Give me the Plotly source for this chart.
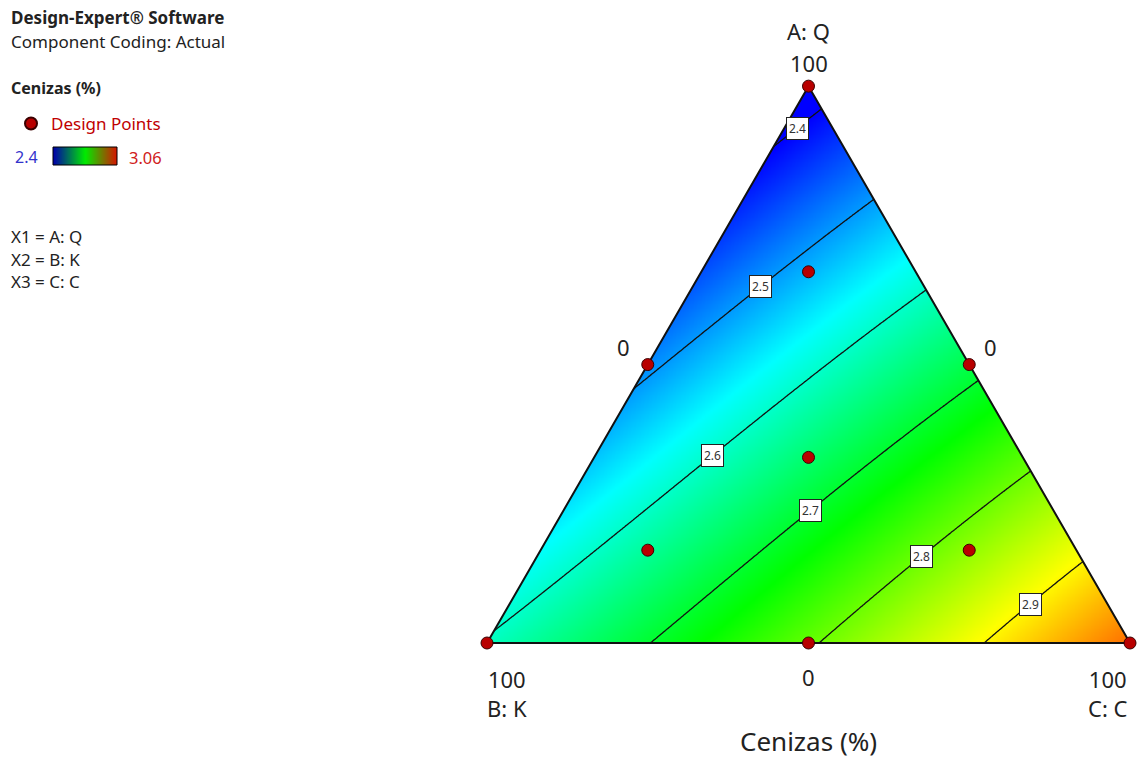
import numpy as np
import plotly.graph_objects as go

# ---------------- data ----------------
# Scheffe mixture model for Cenizas (%)
COEF_LINEAR = [2.375, 2.605, 2.99]      # A: Q, B: K, C: C
COEF_INTER = [0.0, 0.0, -0.015]         # AB, AC, BC
COEF_ABC = 0.12                         # special cubic term
CONTOUR_LEVELS = [2.4, 2.5, 2.6, 2.7, 2.8, 2.9]
RESP_MIN, RESP_MAX = 2.4, 3.06

# design points (percent of A, B, C)
PTS_A = [100, 0, 0, 50, 50, 0, 33.33, 66.67, 16.67, 16.67]
PTS_B = [0, 100, 0, 50, 0, 50, 33.33, 16.67, 66.67, 16.67]
PTS_C = [0, 0, 100, 0, 50, 50, 33.33, 16.67, 16.67, 66.67]

COMP_NAMES = ["A: Q", "B: K", "C: C"]
FONT = "Noto Sans"

# ---------------- helpers ----------------
SQ = np.sqrt(3) / 2
PX = 643.0          # pixels per unit edge
OX, OY = 487.0, 643.0  # pixel position of vertex B


def model(a, b, c):
    return (COEF_LINEAR[0] * a + COEF_LINEAR[1] * b + COEF_LINEAR[2] * c
            + COEF_INTER[0] * a * b + COEF_INTER[1] * a * c + COEF_INTER[2] * b * c
            + COEF_ABC * a * b * c)


def to_xy(a, b, c):
    a, b, c = np.asarray(a, float), np.asarray(b, float), np.asarray(c, float)
    s = a + b + c
    a, c = a / s, c / s
    return c + a / 2, a * SQ


def bary(x, y):
    a = y / SQ
    c = x - a / 2
    return a, 1 - a - c, c


xs = np.linspace(0, 1, 401)
ys = np.linspace(0, SQ, 350)
X, Y = np.meshgrid(xs, ys)
Aa, Bb, Cc = bary(X, Y)
Z = model(Aa, Bb, Cc)

fig = go.Figure()

rainbow = [[0.0, "rgb(0,0,255)"], [0.25, "rgb(0,255,255)"], [0.5, "rgb(0,255,0)"],
           [0.75, "rgb(255,255,0)"], [1.0, "rgb(255,0,0)"]]

fig.add_trace(go.Heatmap(x=xs, y=ys, z=Z, colorscale=rainbow, zmin=RESP_MIN, zmax=RESP_MAX,
                         zsmooth="best", showscale=False, hoverinfo="skip", showlegend=False))
fig.add_trace(go.Contour(x=xs, y=ys, z=Z, autocontour=False,
                         contours=dict(start=CONTOUR_LEVELS[0], end=CONTOUR_LEVELS[-1],
                                       size=0.1, coloring="none"),
                         line=dict(color="#111111", width=1.3), showscale=False,
                         hoverinfo="skip", showlegend=False))

# white masks outside the triangle
e = 0.03
fig.add_trace(go.Scatter(x=[0, 0.5, 0.5, -e, -e, 0], y=[0, SQ, SQ + e, SQ + e, -e, 0],
                         fill="toself", fillcolor="white", mode="lines",
                         line=dict(color="white", width=0), hoverinfo="skip", showlegend=False))
fig.add_trace(go.Scatter(x=[1, 0.5, 0.5, 1 + e, 1 + e, 1], y=[0, SQ, SQ + e, SQ + e, -e, 0],
                         fill="toself", fillcolor="white", mode="lines",
                         line=dict(color="white", width=0), hoverinfo="skip", showlegend=False))
fig.add_trace(go.Scatter(x=[-e, 1 + e, 1 + e, -e, -e], y=[-e, -e, 0, 0, -e],
                         fill="toself", fillcolor="white", mode="lines",
                         line=dict(color="white", width=0), hoverinfo="skip", showlegend=False))

# triangle border
vx, vy = to_xy([0, 1, 0, 0], [1, 0, 0, 1], [0, 0, 1, 0])
fig.add_trace(go.Scatter(x=vx, y=vy, mode="lines", line=dict(color="#111111", width=2),
                         hoverinfo="skip", showlegend=False))

# design points
px_, py_ = to_xy(PTS_A, PTS_B, PTS_C)
fig.add_trace(go.Scatter(x=px_, y=py_, mode="markers", name="Design Points",
                         marker=dict(size=12, color="#b80000", line=dict(color="#3a0000", width=1)),
                         showlegend=True))

# colour legend bar
lg = np.linspace(RESP_MIN, RESP_MAX, 128)
fig.add_trace(go.Heatmap(x=np.arange(len(lg)), y=[0], z=[lg], xaxis="x2", yaxis="y2",
                         colorscale=[[0, "rgb(0,0,170)"], [0.5, "rgb(0,235,0)"], [1, "rgb(215,20,0)"]],
                         zmin=RESP_MIN, zmax=RESP_MAX, showscale=False, hoverinfo="skip",
                         showlegend=False))

# ---------------- annotations ----------------
ann = []


def data_ann(x, y, text, size=22, xs_=0, ys_=0, color="#222222", **kw):
    ann.append(dict(x=x, y=y, xref="x", yref="y", text=text, showarrow=False,
                    xshift=xs_, yshift=ys_, font=dict(family=FONT, size=size, color=color), **kw))


Ax, Ay = to_xy(1, 0, 0)
Bx, By = to_xy(0, 1, 0)
Cx, Cy = to_xy(0, 0, 1)
data_ann(Ax, Ay, COMP_NAMES[0], ys_=55)
data_ann(Ax, Ay, "100", ys_=23)
data_ann(Bx, By, "100<br>" + COMP_NAMES[1], xs_=20, ys_=-50)
data_ann(Cx, Cy, "100<br>" + COMP_NAMES[2], xs_=-22, ys_=-50)
mAB = to_xy(50, 50, 0)
mAC = to_xy(50, 0, 50)
mBC = to_xy(0, 50, 50)
data_ann(mAB[0], mAB[1], "0", xs_=-24, ys_=18)
data_ann(mAC[0], mAC[1], "0", xs_=21, ys_=18)
data_ann(mBC[0], mBC[1], "0", ys_=-34)
data_ann(mBC[0], mBC[1], "Cenizas (%)", size=26, ys_=-98)

# contour labels: placed on each contour at a chosen horizontal position
LABEL_PX = [797, 760, 712, 810, 921, 1030]
for lev, lpx in zip(CONTOUR_LEVELS, LABEL_PX):
    lx = (lpx - OX) / PX
    lo, hi = 0.0, min(2 * lx, 2 * (1 - lx)) * SQ
    f = lambda yy: model(*bary(lx, yy)) - lev
    flo = f(lo)
    for _ in range(60):
        mid = (lo + hi) / 2
        if np.sign(f(mid)) == np.sign(flo):
            lo = mid
        else:
            hi = mid
    ann.append(dict(x=lx, y=(lo + hi) / 2, xref="x", yref="y", text=f"{lev:.1f}",
                    showarrow=False, bgcolor="white", bordercolor="#222222", borderwidth=1,
                    borderpad=2, font=dict(family=FONT, size=12, color="#333333")))


def paper_ann(xpx, ypx, text, size=17, color="#222222", bold=False, anchor="left"):
    t = f"<b>{text}</b>" if bold else text
    ann.append(dict(x=xpx / 1137, y=1 - ypx / 760, xref="paper", yref="paper", text=t,
                    showarrow=False, xanchor=anchor, yanchor="middle",
                    font=dict(family=FONT, size=size, color=color)))


paper_ann(9, 17, "Design-Expert® Software", bold=True, size=17)
paper_ann(9, 41, "Component Coding: Actual", size=17)
paper_ann(9, 88, "Cenizas (%)", bold=True, size=16)
paper_ann(26, 157, f"{RESP_MIN:g}", size=16, color="#3333cc", anchor="center")
paper_ann(145, 157, f"{RESP_MAX:g}", size=16.5, color="#d02020", anchor="center")
for i, (lbl, ypx) in enumerate(zip(COMP_NAMES, [236, 259, 282])):
    paper_ann(9, ypx, f"X{i + 1} = {lbl}", size=17)

shapes = [dict(type="rect", xref="paper", yref="paper", x0=53 / 1137, x1=117 / 1137,
               y0=1 - 165 / 760, y1=1 - 147 / 760, line=dict(color="black", width=1))]

fig.update_layout(
    width=1137, height=760, margin=dict(l=0, r=0, t=0, b=0),
    paper_bgcolor="white", plot_bgcolor="white",
    xaxis=dict(range=[-OX / PX, (1137 - OX) / PX], visible=False, domain=[0, 1]),
    yaxis=dict(range=[-(760 - OY) / PX, OY / PX], visible=False, domain=[0, 1]),
    xaxis2=dict(domain=[53 / 1137, 117 / 1137], anchor="y2", visible=False,
                range=[-0.5, len(lg) - 0.5]),
    yaxis2=dict(domain=[1 - 165 / 760, 1 - 147 / 760], anchor="x2", visible=False,
                range=[-0.5, 0.5]),
    annotations=ann, shapes=shapes,
    showlegend=True,
    legend=dict(x=11 / 1137, y=1 - 106 / 760, xanchor="left", yanchor="top",
                bgcolor="rgba(0,0,0,0)", font=dict(family=FONT, size=17, color="#c00000"),
                itemsizing="constant"),
    font=dict(family=FONT),
)

fig.write_html("out.html", config={"displayModeBar": False},
               post_script="document.body.style.margin='0';"
                           "document.documentElement.style.overflow='hidden';")
